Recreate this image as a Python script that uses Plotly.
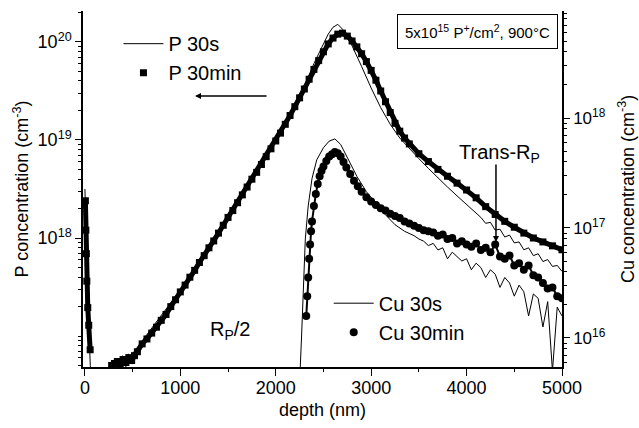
import numpy as np
import plotly.graph_objects as go

# ---------------- data (depth in nm, concentrations as log10 values) ----------------
p30s_depth = [0, 8, 15, 22, 30, 38, 46, 56, 70,
              400, 450, 500, 600, 700, 800, 900, 1000, 1100, 1200, 1300, 1400, 1500, 1600, 1700,
              1800, 1900, 2000, 2100, 2200, 2300, 2400, 2500, 2550, 2600, 2650, 2700, 2750, 2800,
              2900, 3000, 3100, 3200, 3300, 3400, 3500, 3600, 3700, 3800, 3900, 4000, 4100, 4150,
              4200, 4250, 4300, 4350, 4400, 4450, 4500, 4550, 4600, 4650, 4700, 4750, 4800, 4850,
              4900, 4950, 5000]
p30s_log = [18.50, 18.30, 18.05, 17.75, 17.45, 17.15, 16.90, 16.70, 16.50,
            16.62, 16.74, 16.82, 16.95, 17.08, 17.20, 17.33, 17.47, 17.62, 17.77, 17.92, 18.07, 18.22, 18.37, 18.53,
            18.68, 18.84, 19.00, 19.17, 19.35, 19.55, 19.78, 19.98, 20.08, 20.15, 20.18, 20.13, 20.05, 19.96,
            19.75, 19.53, 19.33, 19.16, 19.02, 18.91, 18.81, 18.71, 18.61, 18.52, 18.43, 18.34, 18.25, 18.21,
            18.15, 18.16, 18.08, 18.09, 18.01, 18.03, 17.95, 17.96, 17.88, 17.90, 17.82, 17.84, 17.76, 17.78,
            17.71, 17.72, 17.66]

# surface spike and bulk profile of the 30 min P measurement (None separates the two parts)
p30min_depth = [5, 10, 15, 20, 30, 40, 55, None,
                280, 310, 340, 370, 400, 430, 460, 490, 520, 550,
                600, 650, 700, 750, 800, 850, 900, 950, 1000, 1050, 1100, 1150, 1200, 1250, 1300, 1350,
                1400, 1450, 1500, 1550, 1600, 1650, 1700, 1750, 1800, 1850, 1900, 1950, 2000, 2050,
                2100, 2150, 2200, 2250, 2300, 2350, 2400, 2450, 2500, 2550, 2600, 2650, 2700, 2750,
                2800, 2850, 2900, 2950, 3000, 3050, 3100, 3150, 3200, 3250, 3300, 3350, 3400,
                3500, 3600, 3700, 3800, 3900, 4000, 4100, 4200, 4300, 4400, 4500, 4600, 4700, 4800,
                4900, 5000]
p30min_log = [18.38, 18.08, 17.84, 17.56, 17.29, 17.11, 16.86, None,
              16.70, 16.72, 16.74, 16.70, 16.76, 16.73, 16.78, 16.75, 16.80, 16.84,
              16.92, 16.97, 17.03, 17.09, 17.16, 17.22, 17.30, 17.37, 17.45, 17.52, 17.60, 17.67, 17.75, 17.82, 17.90, 17.97,
              18.05, 18.13, 18.21, 18.28, 18.36, 18.44, 18.52, 18.60, 18.67, 18.75, 18.83, 18.91, 18.99, 19.07,
              19.16, 19.25, 19.34, 19.43, 19.52, 19.62, 19.72, 19.81, 19.90, 19.98, 20.04, 20.08, 20.09, 20.06,
              20.01, 19.95, 19.88, 19.80, 19.71, 19.61, 19.50, 19.39, 19.28, 19.17, 19.09, 19.02, 18.96,
              18.86, 18.78, 18.70, 18.63, 18.56, 18.49, 18.41, 18.32, 18.24, 18.17, 18.11, 18.05, 18.00, 17.96,
              17.92, 17.88]

cu30s_depth = [2200, 2250, 2270, 2290, 2310, 2340, 2380, 2430, 2500, 2560, 2620, 2680, 2750, 2850,
               2950, 3050, 3150, 3250, 3350, 3450, 3500, 3550, 3600, 3650, 3700, 3750, 3800, 3850,
               3900, 3950, 4000, 4050, 4100, 4150, 4200, 4250, 4300, 4350, 4400, 4450, 4500, 4550,
               4600, 4650, 4700, 4750, 4800, 4850, 4900, 4950, 5000]
cu30s_log = [15.50, 15.60, 16.00, 16.50, 16.90, 17.20, 17.45, 17.62, 17.73, 17.79, 17.81, 17.76, 17.64, 17.47,
             17.33, 17.22, 17.12, 17.03, 16.97, 16.93, 16.90, 16.88, 16.84, 16.86, 16.80, 16.82, 16.72, 16.78,
             16.74, 16.70, 16.72, 16.62, 16.68, 16.64, 16.55, 16.62, 16.58, 16.46, 16.55, 16.50, 16.38, 16.48,
             16.42, 16.20, 16.40, 16.36, 16.10, 16.33, 15.70, 16.28, 16.20]

cu30min_depth = [2320, 2330, 2340, 2350, 2360, 2370, 2380, 2400, 2420, 2440, 2460, 2480, 2500, 2530,
                 2560, 2590, 2620, 2650, 2680, 2710, 2740, 2780, 2820, 2860, 2900, 2950, 3000, 3050,
                 3100, 3150, 3200, 3250, 3300, 3350, 3400, 3450, 3500, 3550, 3600, 3650, 3700, 3750,
                 3800, 3850, 3900, 3950, 4000, 4050, 4100, 4150, 4200, 4250, 4300, 4350, 4400, 4450,
                 4500, 4550, 4600, 4650, 4700, 4750, 4800, 4850, 4900, 4950, 5000]
cu30min_log = [16.20, 16.38, 16.55, 16.72, 16.85, 16.97, 17.06, 17.20, 17.31, 17.40, 17.47, 17.52, 17.56, 17.61,
               17.65, 17.67, 17.69, 17.68, 17.65, 17.60, 17.55, 17.49, 17.43, 17.38, 17.33, 17.28, 17.24, 17.21,
               17.18, 17.16, 17.13, 17.11, 17.09, 17.06, 17.04, 17.02, 17.00, 16.98, 16.97, 16.96, 16.93, 16.94,
               16.90, 16.91, 16.86, 16.88, 16.85, 16.83, 16.86, 16.80, 16.82, 16.78, 16.85, 16.74, 16.72, 16.75,
               16.66, 16.68, 16.62, 16.66, 16.57, 16.55, 16.50, 16.45, 16.46, 16.38, 16.36]

x_ticks = [0, 1000, 2000, 3000, 4000, 5000]
x_minor = [500, 1500, 2500, 3500, 4500]
p_ticks = [1e18, 1e19, 1e20]
p_ticktext = ["10<sup>18</sup>", "10<sup>19</sup>", "10<sup>20</sup>"]
cu_ticks = [1e16, 1e17, 1e18]
cu_ticktext = ["10<sup>16</sup>", "10<sup>17</sup>", "10<sup>18</sup>"]

FONT = "Liberation Sans, Arial, sans-serif"
p_minor = [k * 10.0 ** n for n in range(16, 21) for k in range(1, 10) if k * 10.0 ** n not in p_ticks]
cu_minor = [k * 10.0 ** n for n in range(15, 19) for k in range(1, 10) if k * 10.0 ** n not in cu_ticks]


def to_conc(logs):
    return [None if v is None else 10.0 ** v for v in logs]


fig = go.Figure()
# P 30 min (band + markers)
fig.add_trace(go.Scatter(x=p30min_depth, y=to_conc(p30min_log), mode="lines",
                         line=dict(color="black", width=5), showlegend=False, hoverinfo="skip",
                         connectgaps=False))
fig.add_trace(go.Scatter(x=p30min_depth, y=to_conc(p30min_log), mode="markers",
                         marker=dict(symbol="square", size=7, color="black"),
                         name="P 30min", legend="legend", legendrank=2))
fig.add_trace(go.Scatter(x=p30s_depth, y=to_conc(p30s_log), mode="lines",
                         line=dict(color="black", width=1), name="P 30s", legend="legend", legendrank=1))
# Cu on right axis
fig.add_trace(go.Scatter(x=cu30min_depth, y=to_conc(cu30min_log), mode="lines",
                         line=dict(color="black", width=2), yaxis="y2", showlegend=False, hoverinfo="skip"))
fig.add_trace(go.Scatter(x=cu30min_depth, y=to_conc(cu30min_log), mode="markers",
                         marker=dict(symbol="circle", size=8, color="black"), yaxis="y2",
                         name="Cu 30min", legend="legend2", legendrank=2))
fig.add_trace(go.Scatter(x=cu30s_depth, y=to_conc(cu30s_log), mode="lines",
                         line=dict(color="black", width=1), yaxis="y2",
                         name="Cu 30s", legend="legend2", legendrank=1))

axis_common = dict(showline=True, linecolor="black", linewidth=1.5, showgrid=False, zeroline=False,
                   ticks="outside", tickcolor="black", tickwidth=1.2, automargin=False)

fig.update_layout(
    width=639, height=428,
    margin=dict(l=83, r=77, t=11, b=61),
    paper_bgcolor="white", plot_bgcolor="white",
    font=dict(family=FONT, color="black"),
    xaxis=dict(**axis_common, range=[-20, 5000], tickvals=x_ticks, ticklen=7, ticklabelstandoff=-3,
               tickfont=dict(family=FONT, size=18, color="black"),
               minor=dict(tickvals=x_minor, ticks="outside", ticklen=3, tickcolor="black"),
               title=dict(text="depth (nm)", font=dict(size=18), standoff=6)),
    yaxis=dict(**axis_common, type="log", range=[16.684, 20.316], tickvals=p_ticks, ticktext=p_ticktext,
               ticklen=6, tickfont=dict(family=FONT, size=18, color="black"),
               minor=dict(tickvals=p_minor, ticks="outside", ticklen=3, tickcolor="black"),
               title=dict(text="P concentration (cm<sup>-3</sup>)", font=dict(size=18), standoff=4)),
    yaxis2=dict(**axis_common, type="log", overlaying="y", side="right", range=[15.736, 18.973],
                tickvals=cu_ticks, ticktext=cu_ticktext, ticklen=6,
                tickfont=dict(family=FONT, size=17, color="black"),
                minor=dict(tickvals=cu_minor, ticks="outside", ticklen=3, tickcolor="black")),
    legend=dict(x=0.074, y=0.963, xanchor="left", yanchor="top", bgcolor="rgba(0,0,0,0)",
                font=dict(size=20, family=FONT), itemwidth=40, tracegroupgap=0),
    legend2=dict(x=0.513, y=0.234, xanchor="left", yanchor="top", bgcolor="rgba(0,0,0,0)",
                 font=dict(size=20, family=FONT), itemwidth=40, tracegroupgap=0),
    showlegend=True,
)

# right axis title (placed explicitly so it stays inside the picture)
fig.add_annotation(text="Cu concentration (cm<sup>-3</sup>)", xref="paper", yref="paper",
                   x=1.1336, y=0.5, xanchor="center", yanchor="middle", textangle=-90,
                   showarrow=False, font=dict(size=18, family=FONT))
fig.add_annotation(text="5x10<sup>15</sup> P<sup>+</sup>/cm<sup>2</sup>, 900°C", xref="paper", yref="paper",
                   x=0.9916, y=0.9916, xanchor="right", yanchor="top", showarrow=False,
                   font=dict(size=15, family=FONT), bordercolor="black", borderwidth=1, borderpad=7,
                   bgcolor="white")
fig.add_annotation(text="Trans-R<sub>P</sub>", xref="x", yref="paper", x=4350, y=0.601,
                   showarrow=False, font=dict(size=20, family=FONT))
fig.add_annotation(text="", xref="x", yref="paper", x=4308, y=0.351, ax=0, ay=-79,
                   showarrow=True, arrowhead=2, arrowsize=0.8, arrowwidth=1.5, arrowcolor="black")
fig.add_annotation(text="R<sub>P</sub>/2", xref="x", yref="paper", x=1520, y=0.062,
                   showarrow=False, font=dict(size=20, family=FONT))
fig.add_annotation(text="", xref="x", yref="paper", x=1154, y=0.761, ax=73, ay=0,
                   showarrow=True, arrowhead=2, arrowsize=0.8, arrowwidth=1.5, arrowcolor="black")

# remove the browser's default 8px page margin so the 639x428 figure fills the window exactly
fig.write_html("out.html", config={"displayModeBar": False},
               post_script="document.body.style.margin='0';")
